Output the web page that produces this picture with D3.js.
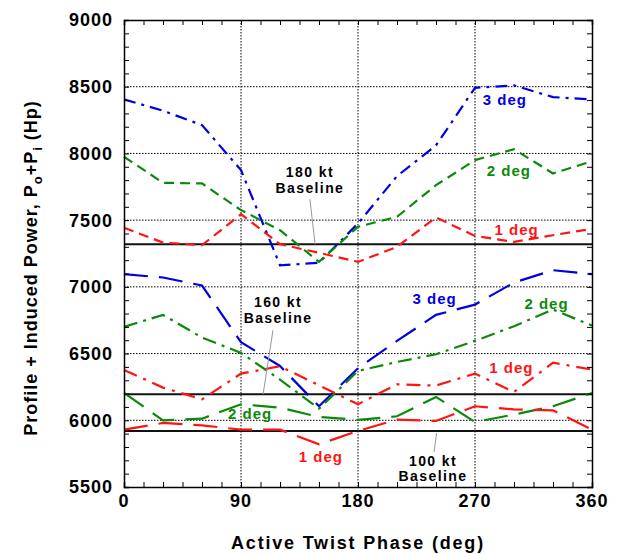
<!DOCTYPE html>
<html>
<head>
<meta charset="utf-8">
<script src="https://cdn.jsdelivr.net/npm/d3@7"></script>
<style>
  html, body { margin: 0; padding: 0; background: #fff; }
  svg { display: block; font-family: "Liberation Sans", Arial, Helvetica, sans-serif; font-weight: bold; }
</style>
</head>
<body>
<svg id="chart" width="621" height="554"></svg>
<script>
// ---------- data ----------
const phase = [0, 30, 60, 90, 120, 150, 180, 210, 240, 270, 300, 330, 360];
const xTicks = [0, 90, 180, 270, 360];
const yTicks = [5500, 6000, 6500, 7000, 7500, 8000, 8500, 9000];

// 180 kt
const kt180_3deg = [8405, 8320, 8212, 7875, 7162, 7180, 7475, 7830, 8060, 8492, 8510, 8422, 8405];
const kt180_2deg = [7975, 7780, 7775, 7575, 7425, 7187, 7450, 7525, 7762, 7950, 8032, 7850, 7942];
const kt180_1deg = [7443, 7332, 7312, 7545, 7320, 7255, 7187, 7300, 7520, 7382, 7337, 7387, 7435];
// 160 kt
const kt160_3deg = [7095, 7070, 7010, 6585, 6407, 6105, 6390, 6595, 6790, 6867, 7032, 7125, 7095];
const kt160_2deg = [6700, 6790, 6620, 6505, 6305, 6087, 6370, 6437, 6495, 6595, 6705, 6830, 6710];
const kt160_1deg = [6377, 6245, 6157, 6350, 6405, 6262, 6120, 6270, 6260, 6350, 6212, 6432, 6380];
// 100 kt
const kt100_2deg = [6205, 6000, 6012, 6120, 6095, 6025, 6003, 6030, 6175, 5987, 6043, 6105, 6205];
const kt100_1deg = [5930, 5980, 5962, 5930, 5930, 5820, 5920, 6005, 5995, 6105, 6082, 6075, 5930];

const baselineValues = [7320, 6195, 5920];
const baselineNames = ["180 kt", "160 kt", "100 kt"];

// ---------- styles ----------
const BLUE = "#0000e0", GREEN = "#0a8a0a", RED = "#ff1414";
const series = [
  { values: kt180_3deg, color: BLUE,  dash: "12,6,3,6" },
  { values: kt180_2deg, color: GREEN, dash: "10,6" },
  { values: kt180_1deg, color: RED,   dash: "10,6" },
  { values: kt160_3deg, color: BLUE,  dash: "24,11" },
  { values: kt160_2deg, color: GREEN, dash: "14,6,3,6" },
  { values: kt160_1deg, color: RED,   dash: "14,7,3,7" },
  { values: kt100_2deg, color: GREEN, dash: "24,11" },
  { values: kt100_1deg, color: RED,   dash: "24,11" }
];

// series labels: [text, phase, value, color]
const seriesLabels = [
  ["3 deg", 293, 8362, BLUE],
  ["2 deg", 296, 7830, GREEN],
  ["1 deg", 302, 7387, RED],
  ["3 deg", 239, 6870, BLUE],
  ["2 deg", 325, 6832, GREEN],
  ["1 deg", 298, 6352, RED],
  ["2 deg", 97, 6007, GREEN],
  ["1 deg", 151.5, 5685, RED]
];
// baseline annotations: name, label phase, line1 value, line2 value, leader [p1,v1,p2,v2]
const baseAnn = [
  { name: "180 kt", p: 143, v1: 7822, v2: 7702, lead: [143, 7657, 147, 7320] },
  { name: "160 kt", p: 118.5, v1: 6847, v2: 6727, lead: [114.6, 6675, 107, 6195] },
  { name: "100 kt", p: 237.7, v1: 5655, v2: 5542, lead: [240.5, 5905, 238.5, 5762] }
];

// ---------- layout ----------
const svg = d3.select("#chart");
const L = 124, R = 592, T = 20, B = 487;
const x = d3.scaleLinear().domain([0, 360]).range([L, R]);
const y = d3.scaleLinear().domain([5500, 9000]).range([B, T]);

// grid lines (dotted)
const grid = svg.append("g");
grid.selectAll("line.gx").data([90, 180, 270]).enter().append("line")
  .attr("x1", d => x(d)).attr("x2", d => x(d)).attr("y1", T).attr("y2", B)
  .attr("stroke", "#000").attr("stroke-width", 1).attr("stroke-dasharray", "1.5,1.5");
grid.selectAll("line.gy").data(yTicks.filter(v => v > 5500 && v < 9000)).enter().append("line")
  .attr("x1", L).attr("x2", R).attr("y1", d => y(d)).attr("y2", d => y(d))
  .attr("stroke", "#000").attr("stroke-width", 1).attr("stroke-dasharray", "1.5,1.5");

// baselines
svg.selectAll("line.base").data(baselineValues).enter().append("line")
  .attr("x1", L).attr("x2", R).attr("y1", d => y(d)).attr("y2", d => y(d))
  .attr("stroke", "#111").attr("stroke-width", 2);

// series lines
const line = d3.line().x((d, i) => x(phase[i])).y(d => y(d));
svg.selectAll("path.s").data(series).enter().append("path")
  .attr("d", d => line(d.values))
  .attr("fill", "none")
  .attr("stroke", d => d.color)
  .attr("stroke-width", 2.2)
  .attr("stroke-dasharray", d => d.dash);

// axes with inward ticks
const minorX = d3.range(0, 361, 15);
const minorY = d3.range(5500, 9001, 100);
const axB = d3.axisBottom(x).tickValues(minorX).tickSize(-5).tickFormat("");
const axT = d3.axisTop(x).tickValues(minorX).tickSize(-5).tickFormat("");
const axL = d3.axisLeft(y).tickValues(minorY).tickSize(-5).tickFormat("");
const axR = d3.axisRight(y).tickValues(minorY).tickSize(-5).tickFormat("");
[[axB, `translate(0,${B})`], [axT, `translate(0,${T})`], [axL, `translate(${L},0)`], [axR, `translate(${R},0)`]]
  .forEach(([ax, tr]) => {
    const g = svg.append("g").attr("transform", tr).call(ax);
    g.select(".domain").attr("stroke", "#000").attr("stroke-width", 1.5);
    g.selectAll(".tick line").attr("stroke", "#000").attr("stroke-width", 1);
  });

// tick labels
svg.selectAll("text.xl").data(xTicks).enter().append("text")
  .attr("x", d => x(d)).attr("y", 507)
  .attr("text-anchor", "middle").attr("font-size", 18).attr("letter-spacing", "1px")
  .attr("fill", "#000").text(d => d);
svg.selectAll("text.yl").data(yTicks).enter().append("text")
  .attr("x", 113).attr("y", d => y(d)).attr("dy", "0.36em")
  .attr("text-anchor", "end").attr("font-size", 18).attr("letter-spacing", "1px")
  .attr("fill", "#000").text(d => d);

// axis titles
svg.append("text").attr("x", 358).attr("y", 549).attr("text-anchor", "middle")
  .attr("font-size", 18).attr("letter-spacing", "1.8px").attr("fill", "#000")
  .text("Active Twist Phase (deg)");
const yt = svg.append("text").attr("transform", "translate(37,268) rotate(-90)")
  .attr("text-anchor", "middle").attr("font-size", 18).attr("letter-spacing", "1px").attr("fill", "#000");
yt.append("tspan").text("Profile + Induced Power, P");
yt.append("tspan").attr("font-size", 13).attr("dy", 5).text("o");
yt.append("tspan").attr("dy", -5).text("+P");
yt.append("tspan").attr("font-size", 13).attr("dy", 5).text("i");
yt.append("tspan").attr("dy", -5).text(" (Hp)");

// series labels
svg.selectAll("text.sl").data(seriesLabels).enter().append("text")
  .attr("x", d => x(d[1])).attr("y", d => y(d[2]))
  .attr("text-anchor", "middle").attr("font-size", 15).attr("letter-spacing", "1px")
  .attr("fill", d => d[3]).text(d => d[0]);

// baseline annotations
baseAnn.forEach(a => {
  svg.append("line")
    .attr("x1", x(a.lead[0])).attr("y1", y(a.lead[1]))
    .attr("x2", x(a.lead[2])).attr("y2", y(a.lead[3]))
    .attr("stroke", "#999").attr("stroke-width", 1);
  svg.append("text").attr("x", x(a.p)).attr("y", y(a.v1)).attr("text-anchor", "middle")
    .attr("font-size", 14).attr("letter-spacing", "1.4px").attr("fill", "#000").text(a.name);
  svg.append("text").attr("x", x(a.p)).attr("y", y(a.v2)).attr("text-anchor", "middle")
    .attr("font-size", 14).attr("letter-spacing", "1.4px").attr("fill", "#000").text("Baseline");
});
</script>
</body>
</html>
